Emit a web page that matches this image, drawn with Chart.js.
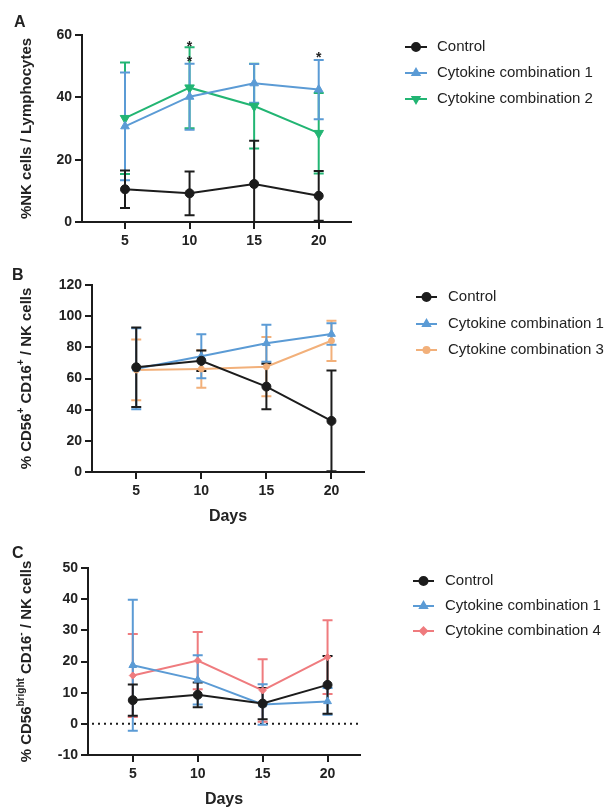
<!DOCTYPE html>
<html>
<head>
<meta charset="utf-8">
<script src="https://cdn.jsdelivr.net/npm/chart.js@4.4.0/dist/chart.umd.min.js"></script>
<style>
  html, body { margin: 0; padding: 0; background: #fff; }
  #wrap { position: relative; width: 609px; height: 810px; overflow: hidden; }
  #wrap canvas { position: absolute; left: 0; }
</style>
</head>
<body>
<div id="wrap">
  <canvas id="chartA" width="609" height="260" style="top:0px"></canvas>
  <canvas id="chartB" width="609" height="270" style="top:260px"></canvas>
  <canvas id="chartC" width="609" height="280" style="top:530px"></canvas>
</div>
<script>
// ---- data ----
const days = [5, 10, 15, 20];
const xTicks = [5, 10, 15, 20];

// A: %NK cells / Lymphocytes (mean, SD)
const ctrlA = [10.5, 9.2, 12.2, 8.4];
const ctrlASd = [6.0, 7.0, 13.9, 8.0];
const cyt1A = [30.7, 40.2, 44.5, 42.5];
const cyt1ASd = [17.3, 10.6, 6.2, 9.5];
const cyt2A = [33.3, 43.1, 37.2, 28.5];
const cyt2ASd = [17.9, 13.0, 13.6, 12.9];
const starDaysA = [10, 10, 20];
const starLevelsA = [57.5, 52.5, 54];

// B: % CD56+ CD16+ / NK cells
const ctrlB = [67.2, 71.4, 54.8, 32.8];
const ctrlBSd = [25.5, 6.6, 14.6, 32.3];
const cyt1B = [66.3, 74.3, 82.6, 88.5];
const cyt1BSd = [26.0, 14.1, 11.9, 6.9];
const cyt3B = [65.5, 66.1, 67.6, 84.2];
const cyt3BSd = [19.5, 12.0, 19.0, 12.9];

// C: % CD56bright CD16- / NK cells
const ctrlC = [7.6, 9.3, 6.5, 12.5];
const ctrlCSd = [5.0, 4.0, 5.0, 9.3];
const cyt1C = [18.8, 14.1, 6.2, 7.2];
const cyt1CSd = [21.0, 7.9, 6.5, 4.3];
const cyt4C = [15.5, 20.3, 10.7, 21.4];
const cyt4CSd = [13.3, 9.2, 10.0, 11.8];

const labelControl = 'Control';
const labelCyt1 = 'Cytokine combination 1';
const labelCyt2 = 'Cytokine combination 2';
const labelCyt3 = 'Cytokine combination 3';
const labelCyt4 = 'Cytokine combination 4';

// ---- colours ----
const BLACK = '#1c1c1c';
const BLUE = '#5b9bd5';
const GREEN = '#22b573';
const ORANGE = '#f2b07a';
const RED = '#ef7b7e';

const FONT = '"Liberation Sans", Arial, Helvetica, sans-serif';
Chart.defaults.font.family = FONT;
Chart.defaults.color = '#222';

function pts(vals) {
    return days.map((d, i) => ({ x: d, y: vals[i] }));
}

function series(label, vals, sd, color, style, radius, rotation) {
    return {
        label: label,
        data: pts(vals),
        sd: sd,
        borderColor: color,
        backgroundColor: color,
        borderWidth: 2,
        tension: 0,
        pointStyle: style,
        pointRadius: radius,
        pointRotation: rotation || 0,
        pointBorderWidth: 1,
        pointBorderColor: color,
        pointBackgroundColor: color
    };
}

// per-panel decoration (letters, axis titles, legend, stars)
const panelCfg = {
    chartA: {
        letter: 'A', letterX: 14, letterY: 15,
        title: [{ t: '%NK cells / Lymphocytes' }],
        titleX: 27,
        days: null,
        legend: { x0: 405, x1: 427, tx: 437, rows: [47, 73, 99] },
        stars: starDaysA.map((d, i) => ({ x: d, y: starLevelsA[i] }))
    },
    chartB: {
        letter: 'B', letterX: 12, letterY: 8,
        title: [{ t: '% CD56' }, { t: '+', sup: true }, { t: ' CD16' }, { t: '+', sup: true }, { t: ' / NK cells' }],
        titleX: 27,
        days: 257,
        legend: { x0: 416, x1: 437, tx: 448, rows: [37, 64, 90] }
    },
    chartC: {
        letter: 'C', letterX: 12, letterY: 16,
        title: [{ t: '% CD56' }, { t: 'bright', sup: true }, { t: ' CD16' }, { t: '-', sup: true }, { t: ' / NK cells' }],
        titleX: 27,
        days: 270,
        zeroLine: true,
        legend: { x0: 413, x1: 434, tx: 445, rows: [51, 76, 101] }
    }
};

const decoPlugin = {
    id: 'deco',
    beforeDatasetsDraw(chart) {
        const cfg = panelCfg[chart.canvas.id];
        const ctx = chart.ctx;
        const area = chart.chartArea;
        const xs = chart.scales.x, ys = chart.scales.y;

        if (cfg.zeroLine) {
            const y0 = ys.getPixelForValue(0);
            ctx.save();
            ctx.strokeStyle = BLACK;
            ctx.lineWidth = 2;
            ctx.setLineDash([2, 4]);
            ctx.beginPath();
            ctx.moveTo(area.left + 4, y0);
            ctx.lineTo(area.right, y0);
            ctx.stroke();
            ctx.restore();
        }

        // error bars (SD)
        ctx.save();
        ctx.beginPath();
        ctx.rect(area.left, area.top - 10, area.right - area.left, area.bottom - area.top + 10);
        ctx.clip();
        for (let k = chart.data.datasets.length - 1; k >= 0; k--) {
            const ds = chart.data.datasets[k];
            ctx.strokeStyle = ds.borderColor;
            ctx.lineWidth = 2;
            ds.data.forEach((p, i) => {
                const x = xs.getPixelForValue(p.x);
                const top = ys.getPixelForValue(p.y + ds.sd[i]);
                const bot = ys.getPixelForValue(p.y - ds.sd[i]);
                ctx.beginPath();
                ctx.moveTo(x, top); ctx.lineTo(x, bot);
                ctx.moveTo(x - 5, top); ctx.lineTo(x + 5, top);
                ctx.moveTo(x - 5, bot); ctx.lineTo(x + 5, bot);
                ctx.stroke();
            });
        }
        ctx.restore();
    },
    afterDraw(chart) {
        const cfg = panelCfg[chart.canvas.id];
        const ctx = chart.ctx;
        const area = chart.chartArea;
        const xs = chart.scales.x, ys = chart.scales.y;

        ctx.save();
        ctx.fillStyle = '#222';

        // panel letter
        ctx.font = 'bold 16px ' + FONT;
        ctx.textAlign = 'left';
        ctx.textBaseline = 'top';
        ctx.fillText(cfg.letter, cfg.letterX, cfg.letterY);

        // y axis title (rotated, with superscripts)
        const big = 'bold 15px ' + FONT;
        const small = 'bold 10px ' + FONT;
        let total = 0;
        cfg.title.forEach(s => {
            ctx.font = s.sup ? small : big;
            s.w = ctx.measureText(s.t).width;
            total += s.w;
        });
        ctx.save();
        ctx.translate(cfg.titleX, (area.top + area.bottom) / 2);
        ctx.rotate(-Math.PI / 2);
        ctx.textBaseline = 'middle';
        ctx.textAlign = 'left';
        let cx = -total / 2;
        cfg.title.forEach(s => {
            ctx.font = s.sup ? small : big;
            ctx.fillText(s.t, cx, s.sup ? -6 : 0);
            cx += s.w;
        });
        ctx.restore();

        // "Days"
        if (cfg.days) {
            ctx.font = 'bold 16px ' + FONT;
            ctx.textAlign = 'center';
            ctx.textBaseline = 'middle';
            ctx.fillText('Days', (area.left + area.right) / 2, cfg.days);
        }

        // significance stars
        if (cfg.stars) {
            ctx.font = 'bold 14px ' + FONT;
            ctx.textAlign = 'center';
            ctx.textBaseline = 'middle';
            cfg.stars.forEach(s => {
                ctx.fillText('*', xs.getPixelForValue(s.x), ys.getPixelForValue(s.y) + 4);
            });
        }

        // legend
        const lg = cfg.legend;
        chart.data.datasets.forEach((ds, i) => {
            const y = lg.rows[i];
            ctx.strokeStyle = ds.borderColor;
            ctx.fillStyle = ds.borderColor;
            ctx.lineWidth = 2;
            ctx.beginPath();
            ctx.moveTo(lg.x0, y);
            ctx.lineTo(lg.x1, y);
            ctx.stroke();
            Chart.helpers.drawPoint(ctx, {
                pointStyle: ds.pointStyle,
                radius: Math.min(ds.pointRadius, 4),
                rotation: ds.pointRotation,
                borderWidth: 1
            }, (lg.x0 + lg.x1) / 2, y);
            ctx.fillStyle = '#222';
            ctx.font = '15px ' + FONT;
            ctx.textAlign = 'left';
            ctx.textBaseline = 'middle';
            ctx.fillText(ds.label, lg.tx, y);
        });
        ctx.restore();
    }
};

function makeChart(id, datasets, opt) {
    const canvas = document.getElementById(id);
    return new Chart(canvas.getContext('2d'), {
        type: 'line',
        data: { datasets: datasets },
        options: {
            responsive: false,
            animation: false,
            devicePixelRatio: 1,
            layout: { padding: { left: 0, right: opt.padRight, top: opt.padTop, bottom: 0 } },
            plugins: { legend: { display: false }, tooltip: { enabled: false } },
            scales: {
                x: {
                    type: 'linear',
                    min: opt.xMin,
                    max: opt.xMax,
                    afterBuildTicks: s => { s.ticks = xTicks.map(v => ({ value: v })); },
                    afterFit: s => { s.height = opt.xHeight; },
                    grid: { drawOnChartArea: false, drawTicks: true, tickLength: 7, color: BLACK, lineWidth: 2 },
                    border: { color: BLACK, width: 2 },
                    ticks: { font: { size: 14, weight: 'bold' }, color: '#222', padding: 4, maxRotation: 0 }
                },
                y: {
                    min: opt.yMin,
                    max: opt.yMax,
                    afterFit: s => { s.width = opt.yWidth; },
                    grid: { drawOnChartArea: false, drawTicks: true, tickLength: 7, color: BLACK, lineWidth: 2 },
                    border: { color: BLACK, width: 2 },
                    ticks: { stepSize: opt.yStep, font: { size: 14, weight: 'bold' }, color: '#222', padding: 3 }
                }
            }
        },
        plugins: [decoPlugin]
    });
}

makeChart('chartA', [
    series(labelControl, ctrlA, ctrlASd, BLACK, 'circle', 4.5),
    series(labelCyt1, cyt1A, cyt1ASd, BLUE, 'triangle', 5),
    series(labelCyt2, cyt2A, cyt2ASd, GREEN, 'triangle', 5.5, 180)
], { xMin: 1.67, xMax: 22.5, yMin: 0, yMax: 60, yStep: 20, yWidth: 82, xHeight: 38, padRight: 258, padTop: 35 });

makeChart('chartB', [
    series(labelControl, ctrlB, ctrlBSd, BLACK, 'circle', 4.5),
    series(labelCyt1, cyt1B, cyt1BSd, BLUE, 'triangle', 4.5),
    series(labelCyt3, cyt3B, cyt3BSd, ORANGE, 'circle', 3)
], { xMin: 1.6, xMax: 22.5, yMin: 0, yMax: 120, yStep: 20, yWidth: 92, xHeight: 58, padRight: 245, padTop: 25 });

makeChart('chartC', [
    series(labelControl, ctrlC, ctrlCSd, BLACK, 'circle', 4.5),
    series(labelCyt1, cyt1C, cyt1CSd, BLUE, 'triangle', 4.5),
    series(labelCyt4, cyt4C, cyt4CSd, RED, 'rectRot', 3.5)
], { xMin: 1.55, xMax: 22.5, yMin: -10, yMax: 50, yStep: 10, yWidth: 88, xHeight: 55, padRight: 249, padTop: 38 });
</script>
</body>
</html>
